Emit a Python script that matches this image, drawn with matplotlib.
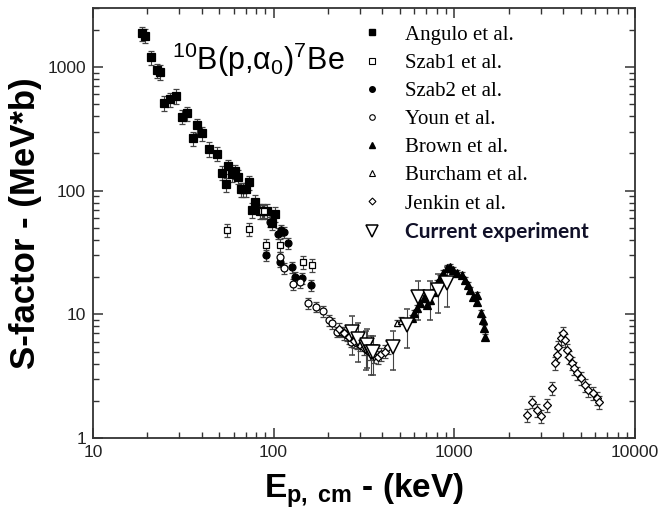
import matplotlib
matplotlib.use('Agg')
import matplotlib.pyplot as plt
from matplotlib.lines import Line2D
import numpy as np

plt.rcParams['font.family'] = ['Liberation Sans', 'DejaVu Sans']
plt.rcParams['mathtext.fontset'] = 'custom'
plt.rcParams['mathtext.rm'] = 'Liberation Sans'
plt.rcParams['mathtext.it'] = 'Liberation Sans:italic'
plt.rcParams['mathtext.bf'] = 'Liberation Sans:bold'

# S-factor data sets (E in keV, S in MeV*b)
angulo_e = [18.8, 19.4, 20.9, 22.7, 23.5, 24.8, 26.6, 28.8, 31.1, 33.3, 35.6, 37.8, 40.3,
            43.7, 48.4, 51.7, 54.2, 56.1, 59.0, 61.1, 63.7, 65.7, 67.9, 70.0, 73.0, 75.9,
            79.1, 84.0, 87.6, 91.4, 97.5, 101.6]
angulo_s = [1870, 1780, 1200, 944, 910, 511, 550, 582, 394, 424, 266, 339, 292,
            217, 198, 139, 113, 158, 136, 144, 129, 103, 103, 103, 117, 69.7,
            80.9, 68.4, 68.4, 68.4, 55.0, 64.7]

szab1_e = [55.3, 73.3, 86.0, 88.0, 90.6, 108.4, 145.9, 163.6]
szab1_s = [48.0, 48.7, 68.0, 68.0, 36.3, 36.3, 26.6, 25.0]

szab2_e = [90.6, 95.4, 106.0, 108.4, 110.0, 114.0, 120.5, 126.0, 131.0, 144.0, 162.0]
szab2_s = [30.2, 56.0, 45.0, 26.6, 48.0, 46.0, 37.5, 24.2, 19.9, 19.6, 17.3]

youn_e = [108.4, 114.5, 127.4, 139.9, 155.4, 171.4, 186.6, 202.3, 211.0, 224.8,
          237.7, 253.5, 266.8, 288.0]
youn_s = [29.2, 23.5, 17.6, 18.3, 12.3, 11.5, 10.6, 9.0, 8.46, 7.24,
          7.24, 6.8, 6.0, 5.83]

brown_e = [582, 597, 623, 645, 679, 708, 733, 764, 798, 832, 868, 907, 945, 986,
           1030, 1097, 1145, 1194, 1219, 1273, 1328, 1328, 1400, 1435, 1458, 1477]
brown_s = [9.4, 10.2, 11.2, 12.3, 13.5, 11.9, 13.0, 15.2, 17.8, 19.5, 21.5, 23.5, 24.2, 22.8,
           21.5, 20.8, 18.9, 17.3, 15.7, 13.9, 12.6, 14.4, 10.2, 9.0, 7.7, 6.6]

burcham_e = [480, 505]
burcham_s = [8.5, 8.9]

jenkin_e = [230, 245, 262, 280, 300, 318, 340, 360, 378, 395, 412, 430,
            2531, 2678, 2853, 3005, 3245, 3453, 3605, 3680, 3757, 3873, 3973, 4090,
            4182, 4325, 4457, 4592, 4790, 5000, 5285, 5510, 5825, 6130, 6340]
jenkin_s = [7.6, 7.0, 6.6, 6.1, 5.7, 5.3, 4.9, 4.6, 4.5, 4.8, 5.0, 5.4,
            1.53, 1.97, 1.68, 1.51, 1.85, 2.52, 4.02, 4.69, 5.47, 6.40, 7.02, 6.20,
            5.15, 4.54, 4.02, 3.66, 3.33, 3.04, 2.68, 2.44, 2.30, 2.09, 1.94]

current_e = [272, 294, 324, 330, 348, 356, 456, 548, 631, 733, 815, 907]
current_s = [7.24, 6.3, 5.47, 5.65, 4.99, 4.99, 5.47, 8.2, 13.9, 13.9, 15.7, 17.8]

labels = ['Angulo et al.', 'Szab1 et al.', 'Szab2 et al.', 'Youn et al.',
          'Brown et al.', 'Burcham et al.', 'Jenkin et al.', 'Current experiment']

fig = plt.figure(figsize=(6.59, 5.15), dpi=100)
ax = fig.add_axes([0.141, 0.1495, 0.8226, 0.835])

ebar = dict(ecolor='#444444', elinewidth=0.8, capsize=2.5, capthick=0.8, linestyle='none')


def series(e, s, rel, marker, ms, fc, mew=0.9):
    e = np.array(e)
    s = np.array(s)
    ax.errorbar(e, s, yerr=s * rel, marker=marker, ms=ms, mfc=fc, mec='black',
                mew=mew, **ebar)


series(angulo_e, angulo_s, 0.13, 's', 5.5, 'black')
series(szab1_e, szab1_s, 0.12, 's', 5, 'white')
series(szab2_e, szab2_s, 0.10, 'o', 5, 'black')
series(youn_e, youn_s, 0.10, 'o', 5, 'white')
series(brown_e, brown_s, 0.06, '^', 5.5, 'black')
series(burcham_e, burcham_s, 0.06, '^', 5, 'white')
series(jenkin_e, jenkin_s, 0.12, 'D', 4, 'white')
series(current_e, current_s, 0.35, 'v', 10, 'white', mew=1.1)

ax.set_xscale('log')
ax.set_yscale('log')
ax.set_xlim(10, 10000)
ax.set_ylim(1, 3000)
ax.set_xticks([10, 100, 1000, 10000])
ax.set_xticklabels(['10', '100', '1000', '10000'])
ax.set_yticks([1, 10, 100, 1000])
ax.set_yticklabels(['1', '10', '100', '1000'])

ax.tick_params(which='both', direction='in', top=True, right=True, colors='#333333',
               labelcolor='#222222', labelsize=12.5)
ax.tick_params(which='major', length=7, width=1.1, pad=5)
ax.tick_params(which='minor', length=4, width=1.0)
for sp in ax.spines.values():
    sp.set_linewidth(1.3)
    sp.set_color('#333333')

ax.set_xlabel(r'$\mathbf{E_{p,\ cm}}$ - (keV)', fontsize=24, fontweight='bold', labelpad=8)
ax.set_ylabel('S-factor - (MeV*b)', fontsize=25, fontweight='bold', labelpad=4)

ax.text(0.146, 0.856, r'$^{10}$B(p,α$_0$)$^7$Be', transform=ax.transAxes,
        fontsize=22, va='baseline', ha='left')

handles = [
    Line2D([], [], ls='none', marker='s', ms=4, mfc='black', mec='black'),
    Line2D([], [], ls='none', marker='s', ms=4, mfc='white', mec='black', mew=0.8),
    Line2D([], [], ls='none', marker='o', ms=4, mfc='black', mec='black'),
    Line2D([], [], ls='none', marker='o', ms=4, mfc='white', mec='black', mew=0.8),
    Line2D([], [], ls='none', marker='^', ms=5, mfc='black', mec='black'),
    Line2D([], [], ls='none', marker='^', ms=5, mfc='white', mec='black', mew=0.8),
    Line2D([], [], ls='none', marker='D', ms=3.5, mfc='white', mec='black', mew=0.8),
    Line2D([], [], ls='none', marker='v', ms=8, mfc='white', mec='black', mew=1.1),
]
leg = ax.legend(handles, labels, loc='upper left', bbox_to_anchor=(0.4995, 0.96),
                frameon=False, borderpad=0, borderaxespad=0, handlelength=0.8,
                handletextpad=1.19, labelspacing=0.41,
                prop={'family': 'Liberation Serif', 'size': 15})
last = leg.get_texts()[-1]
last.set_fontfamily('Lato')
last.set_fontweight('bold')
last.set_fontsize(15)
last.set_color('#101028')

fig.savefig('out.png', dpi=100)
